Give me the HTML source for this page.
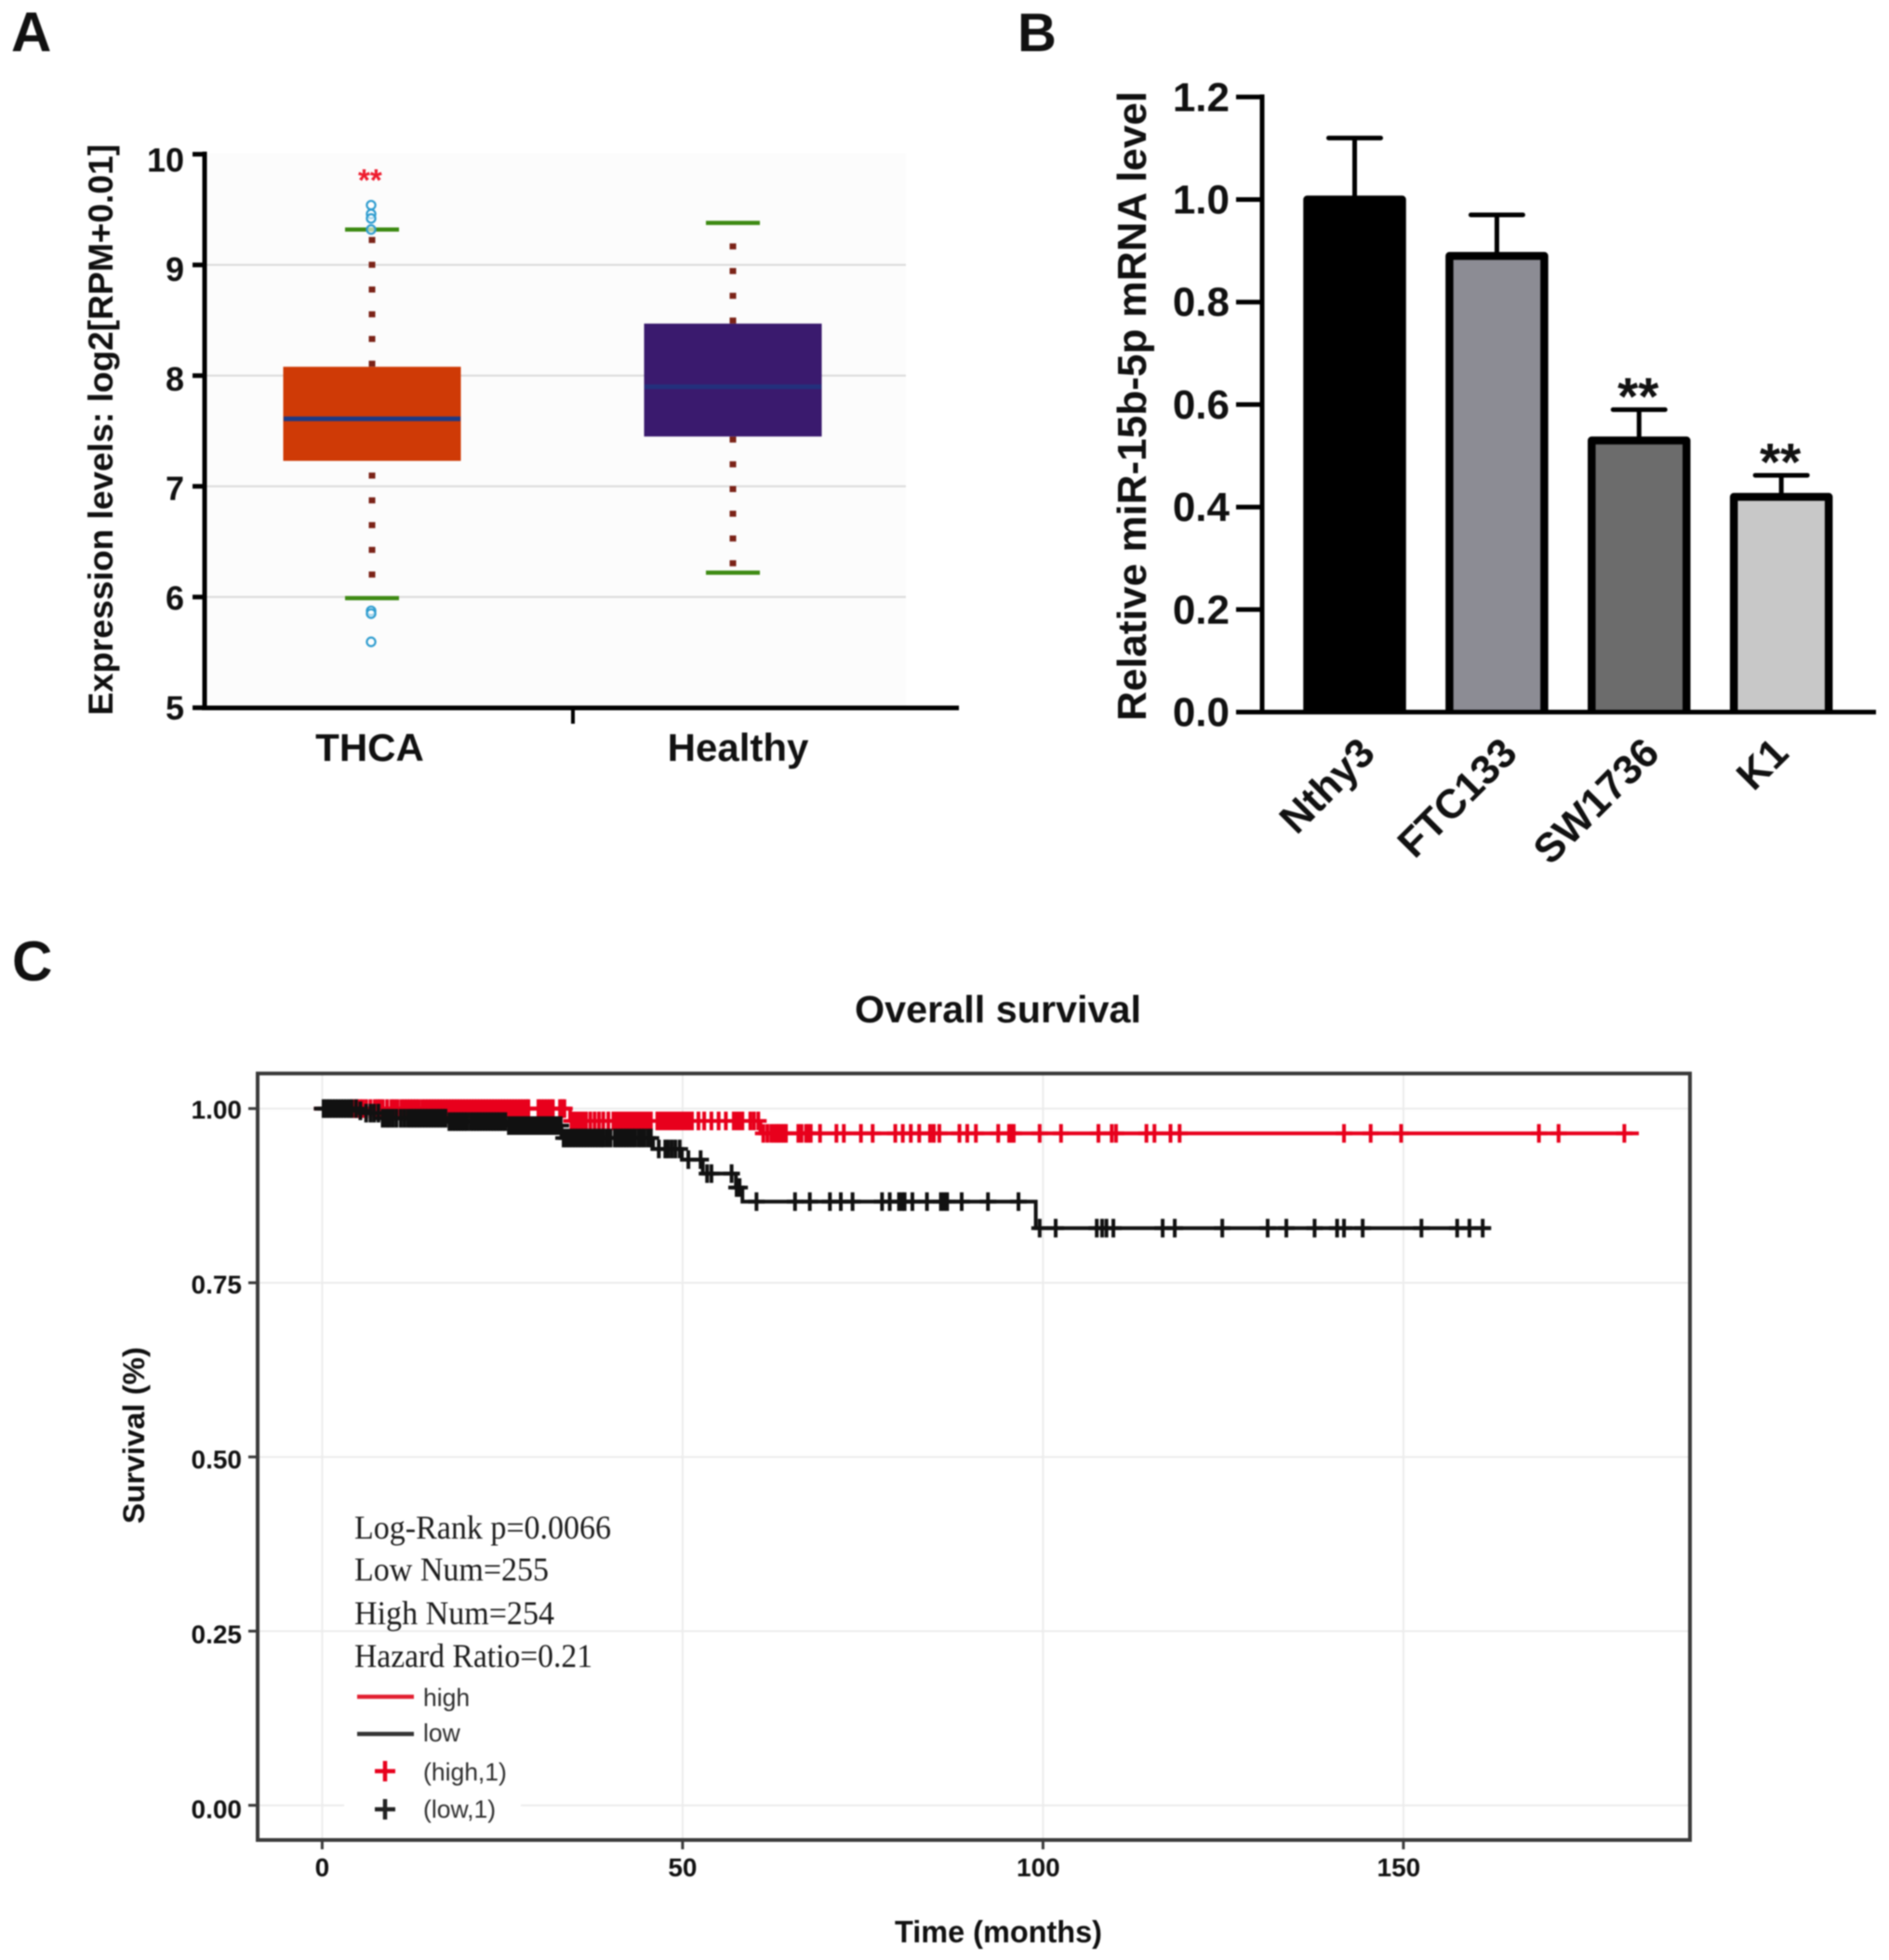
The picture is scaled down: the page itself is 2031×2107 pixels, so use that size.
<!DOCTYPE html>
<html lang="en">
<head>
<meta charset="utf-8">
<title>Figure: miR-15b-5p expression and survival</title>
<style>
html,body{margin:0;padding:0;background:#fff;}
svg{display:block;}
text{font-family:"Liberation Sans",sans-serif;font-weight:bold;fill:#111;}
.serif{font-family:"Liberation Serif",serif;font-weight:normal;fill:#1c1c1c;}
.reg{font-weight:normal;fill:#2e2e2e;}
</style>
</head>
<body>
<svg id="fig" xmlns="http://www.w3.org/2000/svg" width="2031" height="2107" viewBox="0 0 2031 2107">
<g id="root" style="filter:blur(0.8px)">
  <text x="12" y="55" font-size="60">A</text>
  <text x="1094" y="55" font-size="58">B</text>
  <text x="13" y="1054" font-size="60">C</text>

  <g id="panelA">
    <rect x="221" y="165" width="753" height="596" fill="#fcfcfc"/>
    <g id="aGrid"></g>
    <g id="aMarks"></g>
    <g id="aAxis"></g>
    <line x1="217" y1="761" x2="1031" y2="761" stroke="#000" stroke-width="5"/>
    <line x1="616" y1="761" x2="616" y2="778" stroke="#000" stroke-width="4"/>
    <text transform="translate(121,769) rotate(-90)" font-size="37" textLength="614" lengthAdjust="spacingAndGlyphs">Expression levels: log2[RPM+0.01]</text>
    <text x="385" y="205" font-size="33" style="fill:#ee1c2e">**</text>
  </g>

  <g id="panelB">
    <g id="bMarks"></g>
    <g id="bAxis"></g>
    <line x1="1329" y1="765.5" x2="2017" y2="765.5" stroke="#000" stroke-width="5"/>
    <text transform="translate(1232,775) rotate(-90)" font-size="44" textLength="677" lengthAdjust="spacingAndGlyphs">Relative miR-15b-5p mRNA level</text>
  </g>

  <g id="panelC">
    <text x="919" y="1099" font-size="41" textLength="308" lengthAdjust="spacingAndGlyphs">Overall survival</text>
    <g id="cGrid"></g>
    <rect x="370" y="1934" width="190" height="12" fill="#fff"/>
    <g id="cSeries"></g>
    <rect x="277" y="1154" width="1540" height="824" fill="none" stroke="#3a3a3a" stroke-width="4"/>
    <g id="cAxis"></g>
    <text transform="translate(155,1638) rotate(-90)" font-size="32" textLength="190" lengthAdjust="spacingAndGlyphs">Survival (%)</text>
    <text x="962" y="2088" font-size="33" textLength="223" lengthAdjust="spacingAndGlyphs">Time (months)</text>
    <text class="serif" x="381" y="1654" font-size="36" textLength="276" lengthAdjust="spacingAndGlyphs">Log-Rank p=0.0066</text>
    <text class="serif" x="381" y="1699" font-size="36" textLength="209" lengthAdjust="spacingAndGlyphs">Low Num=255</text>
    <text class="serif" x="381" y="1746" font-size="36" textLength="215" lengthAdjust="spacingAndGlyphs">High Num=254</text>
    <text class="serif" x="381" y="1792" font-size="36" textLength="256" lengthAdjust="spacingAndGlyphs">Hazard Ratio=0.21</text>
    <line x1="384" y1="1824" x2="445" y2="1824" stroke="#e21f30" stroke-width="4.5"/>
    <text class="reg" x="455" y="1834" font-size="26.5">high</text>
    <line x1="384" y1="1864" x2="445" y2="1864" stroke="#333" stroke-width="4.5"/>
    <text class="reg" x="455" y="1872" font-size="26.5">low</text>
    <path d="M403 1904H425M414 1893V1915" stroke="#e8001c" stroke-width="4.5" fill="none"/>
    <text class="reg" x="455" y="1914" font-size="26.5">(high,1)</text>
    <path d="M403 1945H425M414 1934V1956" stroke="#222" stroke-width="4.5" fill="none"/>
    <text class="reg" x="455" y="1954" font-size="26.5">(low,1)</text>
  </g>
</g>
</svg>
<script>
/* ---------- Panel A data ---------- */
const boxCategories = ['THCA', 'Healthy'];
const boxQ1 = [7.23, 7.45];
const boxQ3 = [8.08, 8.47];
const boxMedian = [7.61, 7.90];
const boxWhiskerLow = [5.99, 6.22];
const boxWhiskerHigh = [9.32, 9.38];
const boxOutliers = [[9.54, 9.46, 9.42, 9.32, 5.875, 5.85, 5.595], []];
const boxTicks = [10, 9, 8, 7, 6, 5];
const boxFills = ['#cf3a06', '#3a1a6e'];
const boxMedianColors = ['#1d3a86', '#23307c'];

/* ---------- Panel B data ---------- */
const barCategories = ['Nthy3', 'FTC133', 'SW1736', 'K1'];
const barValues = [1.0, 0.89, 0.53, 0.42];
const barErrorTops = [1.12, 0.97, 0.59, 0.462];
const barStars = ['', '', '**', '**'];
const barFills = ['#000000', '#8c8c94', '#6c6c6c', '#c8c8c8'];
const barTicks = ['0.0', '0.2', '0.4', '0.6', '0.8', '1.0', '1.2'];

/* ---------- Panel C data ---------- */
const survivalYTicks = ['0.00', '0.25', '0.50', '0.75', '1.00'];
const survivalXTicks = ['0', '50', '100', '150'];
const highStepTimes = [0, 34.4, 60.8];
const highStepValues = [1.0, 0.9822, 0.9644];
const highEndTime = 181.5;
const lowStepTimes = [0, 5.0, 6.1, 8.4, 17.6, 25.7, 33.2, 45.9, 49.9, 52.8, 57.4, 58.3, 99.0];
const lowStepValues = [1.0, 0.9967, 0.9934, 0.986, 0.9813, 0.9755, 0.9577, 0.942, 0.9266, 0.9066, 0.8866, 0.8665, 0.8283];
const lowEndTime = 161.0;
const highCensor = [
  4.4,4.8,5.2,5.6,6.1,6.7,7.3,7.7,8.0,8.4,9.0,9.6,10.0,10.45,11.0,11.4,11.8,12.2,12.6,13.0,13.4,
  13.9,14.3,14.7,15.1,15.5,15.9,16.3,16.7,17.1,17.5,17.9,18.3,18.7,19.1,19.5,19.9,20.3,20.7,21.1,21.5,21.9,22.3,22.7,23.1,23.5,23.9,24.3,24.7,25.1,25.5,25.9,26.3,26.7,27.1,27.5,27.9,28.3,28.6,
  30.0,30.4,30.8,31.2,31.6,32.0,33.0,33.3,33.6,
  34.6,35.0,35.4,35.8,36.2,36.6,37.2,37.8,38.4,39.0,39.7,40.4,40.8,41.2,41.6,42.0,42.4,42.8,43.2,43.6,44.0,44.4,44.8,45.2,45.6,
  46.5,46.9,47.3,47.7,48.1,48.5,48.9,49.3,49.7,50.1,50.5,50.9,51.3,52.2,53.0,54.0,55.0,56.0,57.1,57.5,57.9,58.3,59.4,59.9,60.5,
  61.2,61.76,62.3,62.7,63.05,63.35,63.7,64.03,64.34,66.06,66.5,67.13,67.47,67.78,69.07,71.34,72.37,74.74,76.37,
  79.51,80.55,81.66,82.83,84.33,84.85,85.62,88.41,89.49,90.69,93.79,95.3,95.6,95.94,99.54,102.5,107.69,109.54,110.13,114.35,115.46,117.69,118.95,141.76,145.46,149.68,168.8,171.53,180.65
];
const lowCensor = [
  0.2,0.6,1.0,1.4,1.8,2.2,2.6,3.0,3.4,3.8,4.1,4.7,5.3,6.1,6.7,7.2,7.8,8.4,8.9,9.3,9.8,10.3,10.9,11.4,
  11.9,12.3,12.7,13.1,13.5,13.9,14.3,14.7,15.1,15.5,15.9,16.3,16.7,17.1,17.65,18.1,18.5,18.9,19.3,19.7,20.1,20.6,21.0,21.4,21.8,22.2,22.6,23.0,23.4,23.8,24.2,24.6,25.0,25.4,25.9,
  26.3,26.7,27.1,27.5,27.9,28.3,28.7,29.1,29.5,29.9,30.3,30.7,31.1,31.5,31.9,32.3,32.7,33.1,33.5,33.9,34.3,34.7,35.1,35.5,35.9,36.3,36.7,37.1,37.5,37.9,38.3,38.7,39.0,39.5,
  40.0,40.6,41.0,41.4,41.8,42.2,42.6,43.0,43.4,43.9,44.3,44.7,45.2,45.6,46.7,47.6,48.0,48.5,49.0,49.6,50.8,52.5,53.4,54.0,56.8,57.5,57.9,60.25,
  65.6,67.65,70.44,71.95,73.58,77.67,78.74,80.03,80.46,80.8,81.88,83.9,85.84,86.27,86.7,88.72,92.37,96.6,
  99.54,101.76,107.46,108.2,108.8,109.76,116.6,118.28,124.87,131.17,133.76,137.68,140.8,141.76,144.35,152.5,157.46,159.16,161.0
];

/* ---------- helpers ---------- */
const NS = 'http://www.w3.org/2000/svg';
function mk(tag, attrs, parent) {
  const el = document.createElementNS(NS, tag);
  for (const k in attrs) { el.setAttribute(k, attrs[k]); }
  parent.appendChild(el);
  return el;
}
function slug(s) { return String(s).toLowerCase().replace(/[^a-z0-9]+/g, '-'); }

/* ---------- Panel A ---------- */
const ay = v => 760.8 - (v - 5) * 119;
const ax = i => 400 + i * 388;
const aGrid = document.getElementById('aGrid');
const aMarks = document.getElementById('aMarks');
const aAxis = document.getElementById('aAxis');

boxTicks.forEach(function (t) {
  if (t !== 10 && t !== 5) {
    const g = mk('line', {x1: 221, x2: 974, y1: ay(t), y2: ay(t), stroke: '#d9d9d9', 'stroke-width': 2}, aGrid);
    
    
  }
  const tick = mk('line', {x1: 207, x2: 221, y1: ay(t), y2: ay(t), stroke: '#000', 'stroke-width': 5}, aAxis);
  
  
  const lab = mk('text', {x: 198, y: ay(t) + 12.5 + (t - 5) * 1.2, 'font-size': 36, 'text-anchor': 'end'}, aAxis);
  lab.textContent = t;
  
  
});
const yAxisA = mk('line', {x1: 220, x2: 220, y1: 163, y2: 763, stroke: '#000', 'stroke-width': 5}, aAxis);



boxCategories.forEach(function (c, i) {
  const x = ax(i);
  const key = slug(c);
  const upper = mk('line', {x1: x, x2: x, y1: ay(boxQ3[i]), y2: ay(boxWhiskerHigh[i]) + 8, stroke: '#7b2318', 'stroke-width': 7, 'stroke-dasharray': '6.5 20.1'}, aMarks);
  
  
  const lower = mk('line', {x1: x, x2: x, y1: ay(boxQ1[i]), y2: ay(boxWhiskerLow[i]), stroke: '#7b2318', 'stroke-width': 7, 'stroke-dasharray': '6.5 20.1', 'stroke-dashoffset': i === 0 ? 14 : 0}, aMarks);
  
  
  [boxWhiskerHigh[i], boxWhiskerLow[i]].forEach(function (w, j) {
    const cap = mk('line', {x1: x - 29, x2: x + 29, y1: ay(w), y2: ay(w), stroke: '#3d8a12', 'stroke-width': 4.5}, aMarks);
    
    
  });
  const box = mk('rect', {x: x - 95.5, y: ay(boxQ3[i]), width: 191, height: ay(boxQ1[i]) - ay(boxQ3[i]), fill: boxFills[i]}, aMarks);
  
  
  const med = mk('line', {x1: x - 95, x2: x + 95, y1: ay(boxMedian[i]), y2: ay(boxMedian[i]), stroke: boxMedianColors[i], 'stroke-width': 5}, aMarks);
  
  
  boxOutliers[i].forEach(function (o) {
    const pt = mk('circle', {cx: x - 1, cy: ay(o), r: 4.6, fill: '#fff', 'fill-opacity': 0.6, stroke: '#2e9ccf', 'stroke-width': 2.2}, aMarks);
    
    
  });
  const lab = mk('text', {x: i === 0 ? 397.5 : 793.5, y: 818, 'font-size': 42, 'text-anchor': 'middle'}, aMarks);
  lab.textContent = c;
  
  
});

/* ---------- Panel B ---------- */
const by = v => 765.5 - v * 551;
const bx = i => 1456.5 + i * 152.9;
const bMarks = document.getElementById('bMarks');
const bAxis = document.getElementById('bAxis');
barTicks.forEach(function (t) {
  const v = parseFloat(t);
  const tick = mk('line', {x1: 1329, x2: 1357, y1: by(v), y2: by(v), stroke: '#000', 'stroke-width': 5}, bAxis);
  
  
  const lab = mk('text', {x: 1322, y: by(v) + 15, 'font-size': 44, 'text-anchor': 'end'}, bAxis);
  lab.textContent = t;
  
  
});
const yAxisB = mk('line', {x1: 1357, x2: 1357, y1: 101.5, y2: 768, stroke: '#000', 'stroke-width': 5}, bAxis);



barCategories.forEach(function (c, i) {
  const x = bx(i);
  const key = slug(c);
  const stem = mk('line', {x1: x, x2: x, y1: by(barValues[i]), y2: by(barErrorTops[i]), stroke: '#000', 'stroke-width': 5}, bMarks);
  
  
  const cap = mk('line', {x1: x - 28, x2: x + 28, y1: by(barErrorTops[i]), y2: by(barErrorTops[i]), stroke: '#000', 'stroke-width': 5, 'stroke-linecap': 'round'}, bMarks);
  
  
  const barPath = 'M' + (x - 51) + ' ' + by(0) + 'V' + by(barValues[i]) + 'H' + (x + 51) + 'V' + by(0);
  const bar = mk('path', {d: barPath, fill: barFills[i], stroke: '#000', 'stroke-width': 8.5, 'stroke-linejoin': 'round'}, bMarks);
  
  
  if (barStars[i]) {
    const st = mk('text', {x: x - 1, y: by(barErrorTops[i]) + 5, 'font-size': 57, 'text-anchor': 'middle'}, bMarks);
    st.textContent = barStars[i];
    
    
  }
  const labelX = i === 3 ? x + 10 : x + 24;
  const lab = mk('text', {transform: 'translate(' + labelX + ',812) rotate(-45)', 'font-size': 44, 'text-anchor': 'end'}, bMarks);
  lab.textContent = c;
  
  
});

/* ---------- Panel C ---------- */
const cx = t => 346.4 + t * 7.75;
const cy = s => 1940.7 - s * 749;
const cGrid = document.getElementById('cGrid');
const cAxis = document.getElementById('cAxis');
const cSeries = document.getElementById('cSeries');

survivalYTicks.forEach(function (t) {
  const v = parseFloat(t);
  const g = mk('line', {x1: 279, x2: 1815, y1: cy(v), y2: cy(v), stroke: '#ececec', 'stroke-width': 2}, cGrid);
  
  
  const tick = mk('line', {x1: 267, x2: 277, y1: cy(v), y2: cy(v), stroke: '#3a3a3a', 'stroke-width': 3}, cAxis);
  
  
  const lab = mk('text', {x: 260, y: cy(v) + 11 + (1 - v) * 3, 'font-size': 28, 'text-anchor': 'end'}, cAxis);
  lab.textContent = t;
  
  
});
survivalXTicks.forEach(function (t) {
  const v = parseFloat(t);
  const g = mk('line', {x1: cx(v), x2: cx(v), y1: 1156, y2: 1976, stroke: '#ececec', 'stroke-width': 2}, cGrid);
  
  
  const tick = mk('line', {x1: cx(v), x2: cx(v), y1: 1978, y2: 1988, stroke: '#3a3a3a', 'stroke-width': 3}, cAxis);
  
  
  const lab = mk('text', {x: cx(v) - (t.length > 2 ? 5 : 0), y: 2017, 'font-size': 28, 'text-anchor': 'middle'}, cAxis);
  lab.textContent = t;
  
  
});

function levelAt(t, times, values) {
  let s = values[0];
  for (let i = 0; i < times.length; i++) { if (t >= times[i]) { s = values[i]; } }
  return s;
}
function stepPath(times, values, end) {
  let d = 'M' + (cx(times[0]) - 9) + ' ' + cy(values[0]);
  for (let i = 1; i < times.length; i++) {
    d += 'H' + cx(times[i]) + 'V' + cy(values[i]);
  }
  return d + 'H' + (cx(end) + 9);
}
function drawSeries(name, times, values, end, censor, color) {
  const group = mk('g', {}, cSeries);
  
  
  const line = mk('path', {d: stepPath(times, values, end), fill: 'none', stroke: color, 'stroke-width': 4}, group);
  
  
  censor.forEach(function (t) {
    const s = levelAt(t, times, values);
    const x = cx(t);
    const y = cy(s);
    const mark = mk('path', {d: 'M' + (x - 9) + ' ' + y + 'H' + (x + 9) + 'M' + x + ' ' + (y - 10) + 'V' + (y + 10), fill: 'none', stroke: color, 'stroke-width': 4}, group);
    
    
  });
}
drawSeries('high', highStepTimes, highStepValues, highEndTime, highCensor, '#e8001c');
drawSeries('low', lowStepTimes, lowStepValues, lowEndTime, lowCensor, '#111111');
</script>
</body>
</html>
